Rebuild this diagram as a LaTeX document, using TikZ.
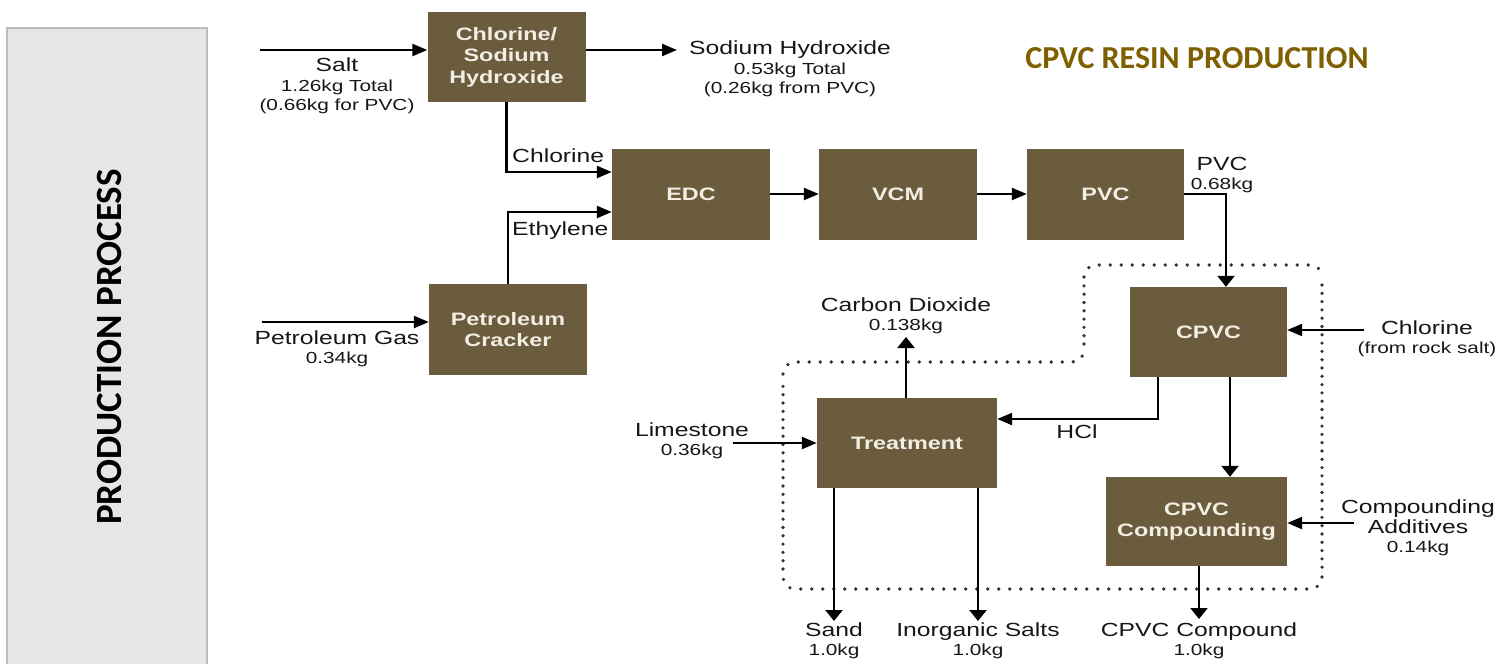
\documentclass[tikz,border=0pt]{standalone}
\usepackage{fontspec}
\setmainfont{Liberation Sans}[FakeStretch=1.3]
\newfontfamily\calfont{Carlito}
\usetikzlibrary{arrows.meta}
\definecolor{boxbrown}{HTML}{6C5C3E}
\definecolor{boxtext}{HTML}{F2EEE4}
\definecolor{labelcol}{HTML}{161616}
\definecolor{titlecol}{HTML}{7F6000}
\definecolor{panelfill}{HTML}{E6E6E6}
\definecolor{panelline}{HTML}{BDBDBD}
\definecolor{dotcol}{HTML}{3A3020}
\newcommand{\mainsz}{\fontsize{19}{19.5}\selectfont}
\begin{document}
\begin{tikzpicture}[x=1pt,y=-1pt,
  box/.style={fill=boxbrown, text=boxtext, font=\bfseries\fontsize{18}{21.5}\selectfont, align=center, inner sep=0pt},
  lbl/.style={text=labelcol, align=center, font=\fontsize{16}{19.5}\selectfont, inner sep=0pt},
  harr/.style={draw=black, line width=2.3pt, -{Triangle[length=15pt,width=12pt]}},
  varr/.style={draw=black, line width=2.5pt, -{Triangle[length=11pt,width=17pt]}},
  hdots/.style={draw=dotcol, line width=3.6pt, line cap=round, dash pattern=on 0pt off 11pt, rounded corners=12pt},
  vdots/.style={draw=dotcol, line width=3.6pt, line cap=round, dash pattern=on 0pt off 8.3pt}]
\useasboundingbox (0,0) rectangle (1510,664);
% left panel
\fill[panelfill] (7,28) rectangle (207,664);
\draw[panelline, line width=1.5pt] (7,664) -- (7,28) -- (207,28) -- (207,664);
\node[rotate=90, font=\calfont\bfseries\fontsize{37}{37}\selectfont, text=black] (ptitle) at (109.5,347) {PRODUCTION PROCESS};
% title
\node[font=\calfont\bfseries\fontsize{32}{32}\selectfont, text=titlecol] (title) at (1197,58) {CPVC RESIN PRODUCTION};
% dotted boundary
\draw[hdots] (783,374) -- (783,362) -- (1084,362) -- (1084,350);
\draw[hdots] (1084,277) -- (1084,265) -- (1322,265) -- (1322,277);
\draw[hdots] (1322,577) -- (1322,589) -- (783,589) -- (783,577);
\draw[vdots] (783,569) -- (783,380);
\draw[vdots] (1084,344) -- (1084,283);
\draw[vdots] (1322,285) -- (1322,570);
% boxes
\node[box, minimum width=158pt, minimum height=90pt] (chl) at (506.5,57) {Chlorine/\\Sodium\\Hydroxide};
\node[box, minimum width=158pt, minimum height=91pt] (edc) at (691,194) {EDC};
\node[box, minimum width=158pt, minimum height=91pt] (vcm) at (898,194) {VCM};
\node[box, minimum width=157pt, minimum height=91pt] (pvc) at (1105.5,194) {PVC};
\node[box, minimum width=158pt, minimum height=91pt] (crk) at (508,329.5) {Petroleum\\Cracker};
\node[box, minimum width=157pt, minimum height=90pt] (cpvc) at (1208.5,332) {CPVC};
\node[box, minimum width=181pt, minimum height=89pt] (cmp) at (1196.5,521.5) {CPVC\\Compounding};
\node[box, minimum width=180pt, minimum height=90pt] (trt) at (907,443) {Treatment};
% labels
\node[lbl] (saltl) at (337,86) {{\mainsz Salt}\\1.26kg Total\\(0.66kg for PVC)};
\node[lbl] (naohl) at (790,69) {{\mainsz Sodium Hydroxide}\\0.53kg Total\\(0.26kg from PVC)};
\node[lbl] (pgasl) at (337,349) {{\mainsz Petroleum Gas}\\0.34kg};
\node[lbl, anchor=west, font=\mainsz] (chlorl) at (512,156) {Chlorine};
\node[lbl, anchor=west, font=\mainsz] (ethl) at (512,231) {Ethylene};
\node[lbl] (pvcl) at (1222,175) {{\mainsz PVC}\\0.68kg};
\node[lbl] (co2l) at (906,316) {{\mainsz Carbon Dioxide}\\0.138kg};
\node[lbl] (cl2l) at (1427,339) {{\mainsz Chlorine}\\(from rock salt)};
\node[lbl, font=\mainsz] (hcll) at (1077,432) {HCl};
\node[lbl] (liml) at (692,441) {{\mainsz Limestone}\\0.36kg};
\node[lbl] (addl) at (1418,528) {{\mainsz Compounding}\\{\mainsz Additives}\\0.14kg};
\node[lbl] (sandl) at (834,641) {{\mainsz Sand}\\1.0kg};
\node[lbl] (inorgl) at (978,641) {{\mainsz Inorganic Salts}\\1.0kg};
\node[lbl] (outl) at (1199,641) {{\mainsz CPVC Compound}\\1.0kg};
% free ends
\coordinate (saltS) at (260,50);
\coordinate (naohE) at (677,50);
\coordinate (pgasS) at (262,322);
\coordinate (cl2S) at (1364,330);
\coordinate (addS) at (1354,523);
\coordinate (limS) at (733,443);
\coordinate (co2E) at (906,337);
\coordinate (sandE) at (834,621);
\coordinate (inorgE) at (978,621);
\coordinate (outE) at (1199,619);
% connectors
\draw[harr] (saltS) -- (saltS -| chl.west);
\draw[harr] (chl.east |- naohE) -- (naohE);
\draw[harr] (chl.south) |- ([yshift=22pt]edc.west);
\draw[harr] (crk.north) |- ([yshift=-18pt]edc.west);
\draw[harr] (pgasS) -- (pgasS -| crk.west);
\draw[harr] (edc) -- (vcm);
\draw[harr] (vcm) -- (pvc);
\draw[varr] (pvc.east) -| ([xshift=17.5pt]cpvc.north);
\draw[harr] (cl2S) -- (cl2S -| cpvc.east);
\draw[harr] ([xshift=-50.5pt]cpvc.south) |- ([yshift=24pt]trt.east);
\draw[varr] ([xshift=21.5pt]cpvc.south) -- ([xshift=21.5pt]cpvc.south |- cmp.north);
\draw[harr] (addS) -- (addS -| cmp.east);
\draw[varr] (outE |- cmp.south) -- (outE);
\draw[harr] (limS) -- (trt.west);
\draw[varr] (co2E |- trt.north) -- (co2E);
\draw[varr] (sandE |- trt.south) -- (sandE);
\draw[varr] (inorgE |- trt.south) -- (inorgE);
\end{tikzpicture}
\end{document}
